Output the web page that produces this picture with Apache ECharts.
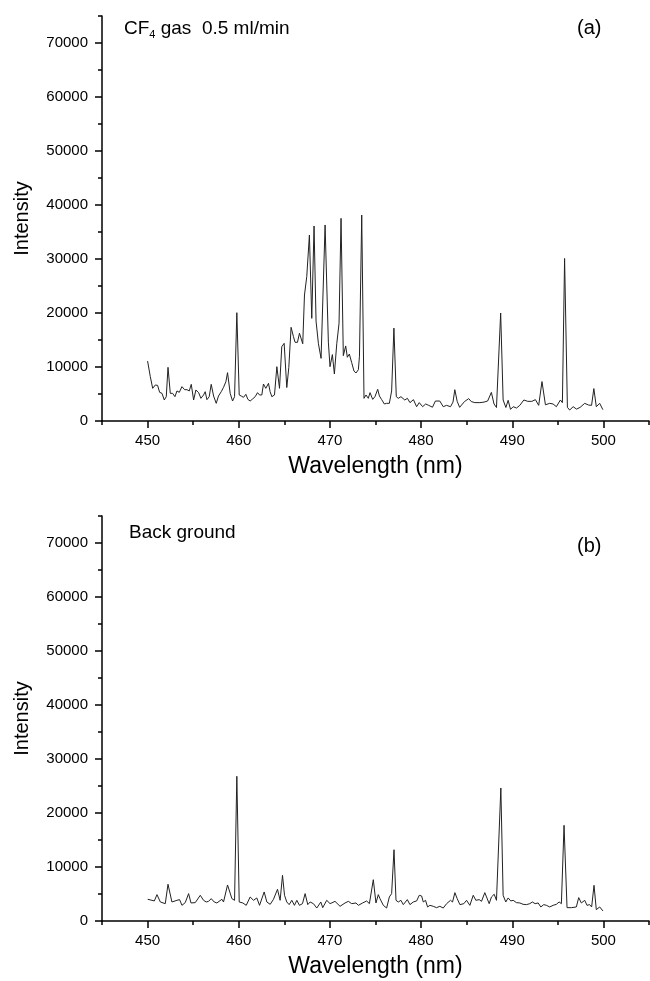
<!DOCTYPE html>
<html>
<head>
<meta charset="utf-8">
<script src="https://cdn.jsdelivr.net/npm/echarts@6/dist/echarts.min.js"></script>
<style>html,body{margin:0;padding:0;background:#fff;}#c{width:650px;height:981px;}</style>
</head>
<body>
<div id="c"></div>
<script>
// ---- data ----
const wavelengthA = [450.00,450.30,450.56,450.85,451.10,451.32,451.58,451.83,452.05,452.24,452.49,452.75,453.00,453.22,453.48,453.77,454.06,454.32,454.57,454.79,455.05,455.30,455.60,455.85,456.14,456.32,456.51,456.76,456.98,457.24,457.53,457.78,458.08,458.33,458.59,458.77,459.06,459.32,459.54,459.79,460.05,460.27,460.52,460.78,461.00,461.25,461.51,461.80,462.06,462.28,462.53,462.71,462.97,463.26,463.44,463.63,463.92,464.18,464.47,464.72,464.98,465.27,465.49,465.74,466.00,466.18,466.44,466.66,466.84,467.02,467.21,467.46,467.75,468.01,468.26,468.48,468.74,469.03,469.47,469.83,470.01,470.27,470.49,470.75,471.00,471.22,471.47,471.73,471.91,472.13,472.39,472.64,472.86,473.12,473.24,473.49,473.74,473.96,474.21,474.40,474.69,474.94,475.24,475.43,475.68,475.97,476.22,476.52,476.77,477.02,477.28,477.50,477.79,478.21,478.50,478.78,479.16,479.51,479.80,480.17,480.50,480.83,481.25,481.57,482.05,482.43,482.79,483.23,483.50,483.70,483.96,484.23,484.75,485.22,485.50,485.90,486.45,486.90,487.30,487.71,488.00,488.27,488.73,489.00,489.30,489.55,489.81,490.10,490.47,490.83,491.27,491.70,492.15,492.54,492.90,493.26,493.64,494.11,494.48,494.84,495.28,495.50,495.74,496.05,496.30,496.68,497.05,497.45,497.95,498.36,498.70,498.95,499.22,499.59,499.94];
const intensityA = [11100,8200,6050,6670,6600,5310,5120,3890,4500,9940,5120,5120,4500,5560,5310,6360,5800,5800,5560,6790,3890,5740,5250,4200,4820,5430,3950,4500,6790,4630,3270,4630,5430,6230,7280,8950,5120,3700,4500,20060,4820,4630,4380,4940,4010,3700,4070,4500,5250,4820,4820,6850,6050,6980,5430,4500,4820,10060,6050,13760,14380,6200,9900,17350,15620,14570,14570,16260,16500,14300,23330,26730,34440,19010,36110,18500,14300,11600,36300,14600,10060,12300,8700,14300,18100,37530,12100,13900,11800,12400,10800,9250,8890,9500,12000,38150,4200,4820,4200,5250,4010,4500,5870,4630,3950,3150,3270,3270,5560,17200,4500,4200,4500,3890,4200,3400,3950,2650,3400,2650,3150,2900,2550,3700,3700,2650,2900,2650,3500,5800,3640,2530,3580,4150,3600,3400,3400,3500,3700,5300,3150,2500,20000,3890,2500,3830,2150,2650,2400,2900,3890,3640,3640,3950,2900,7300,3000,3270,3150,2650,3890,3400,30100,2530,2030,2650,2200,2530,3270,2960,2900,6000,2650,3270,2100];

const wavelengthB = [450.01,450.48,450.74,451.03,451.40,451.94,452.24,452.67,453.22,453.51,453.77,454.13,454.50,454.76,455.23,455.78,456.14,456.43,456.69,456.98,457.31,457.60,458.15,458.33,458.77,459.25,459.54,459.79,460.05,460.45,460.82,461.25,461.62,461.98,462.28,462.79,463.08,463.45,463.81,464.25,464.54,464.80,465.02,465.27,465.53,465.82,466.11,466.37,466.66,466.99,467.28,467.57,467.83,468.19,468.56,469.00,469.21,469.65,470.02,470.56,471.11,471.66,472.02,472.39,472.86,473.12,473.59,474.03,474.33,474.76,475.05,475.31,475.49,475.86,476.22,476.52,476.77,477.03,477.25,477.50,477.79,478.05,478.49,478.78,479.14,479.51,479.80,480.06,480.24,480.49,480.71,480.97,481.33,481.70,482.06,482.43,482.80,483.23,483.45,483.71,483.96,484.26,484.69,484.99,485.35,485.72,486.01,486.37,486.63,486.99,487.18,487.47,487.72,488.02,488.27,488.75,489.00,489.29,489.55,489.84,490.10,490.46,490.83,491.19,491.56,491.92,492.21,492.51,492.84,493.13,493.46,493.75,494.11,494.48,494.84,495.14,495.39,495.68,496.01,496.49,497.03,497.29,497.58,497.95,498.20,498.49,498.71,498.97,499.22,499.59,499.95];
const intensityB = [4020,3830,3710,4880,3520,3210,6800,3520,3830,3960,2900,3400,5070,3340,3400,4760,3830,3520,3640,4140,3520,3340,4020,3520,6670,4140,3830,26800,3520,3340,2900,4450,3830,4270,2900,5380,3520,3090,4020,5870,3830,8460,4760,3520,3030,3830,2900,3830,2900,3210,5070,3030,3520,3210,2400,3520,2470,3830,3210,3640,2720,3340,3640,3210,3340,2900,3340,3710,3210,7650,3340,4880,4140,2900,2400,4450,5070,13200,3830,3520,3830,3030,3960,3030,3520,3710,4760,4630,3520,3830,2600,2900,2720,2470,2720,2400,3210,3830,3520,5250,4140,3030,3210,3830,2900,4760,3830,3960,3640,5250,4450,3210,4450,4950,3830,24630,4760,3520,4270,3710,3830,3400,3340,3090,3030,3210,3520,3210,3340,2600,3030,2900,2600,2900,3090,3520,3210,17720,2470,2470,2600,4330,3340,3830,2900,3030,2600,6610,2100,2600,1860];

const xTickLabels = [450, 460, 470, 480, 490, 500];
const xMinorTicks = [445, 455, 465, 475, 485, 495, 505];
const yTickLabels = [0, 10000, 20000, 30000, 40000, 50000, 60000, 70000];
const yMinorTicks = [5000, 15000, 25000, 35000, 45000, 55000, 65000, 75000];

const xMin = 445, xMax = 505, yMin = 0, yMax = 75000;

// ---- chart ----
const FONT = 'Liberation Sans, Arial, sans-serif';
const zip = (xs, ys) => xs.map((x, i) => [x, ys[i]]);
const plain = v => String(v);

function xAxes(gi) {
  return [
    {
      type: 'value', gridIndex: gi, position: 'bottom', min: xMin, max: xMax,
      name: 'Wavelength (nm)', nameLocation: 'middle', nameGap: 34,
      nameTextStyle: { fontFamily: FONT, fontSize: 23, color: '#000' },
      axisLine: { show: true, onZero: false, lineStyle: { color: '#000', width: 1.5 } },
      axisTick: { show: true, customValues: xTickLabels, length: 7, lineStyle: { color: '#000', width: 1.5 } },
      axisLabel: { customValues: xTickLabels, formatter: plain, margin: 12, fontFamily: FONT, fontSize: 15, color: '#000' },
      splitLine: { show: false }
    },
    {
      type: 'value', gridIndex: gi, position: 'bottom', min: xMin, max: xMax,
      axisLine: { show: false, onZero: false },
      axisTick: { show: true, customValues: xMinorTicks, length: 4, lineStyle: { color: '#000', width: 1.5 } },
      axisLabel: { show: false },
      splitLine: { show: false }
    }
  ];
}
function yAxes(gi) {
  return [
    {
      type: 'value', gridIndex: gi, position: 'left', min: yMin, max: yMax,
      name: 'Intensity', nameLocation: 'middle', nameGap: 70,
      nameTextStyle: { fontFamily: FONT, fontSize: 20, color: '#000' },
      axisLine: { show: true, lineStyle: { color: '#000', width: 1.5 } },
      axisTick: { show: true, customValues: yTickLabels, length: 7, lineStyle: { color: '#000', width: 1.5 } },
      axisLabel: { customValues: yTickLabels, formatter: plain, margin: 14, fontFamily: FONT, fontSize: 15, color: '#000' },
      splitLine: { show: false }
    },
    {
      type: 'value', gridIndex: gi, position: 'left', min: yMin, max: yMax,
      axisLine: { show: false },
      axisTick: { show: true, customValues: yMinorTicks, length: 4, lineStyle: { color: '#000', width: 1.5 } },
      axisLabel: { show: false },
      splitLine: { show: false }
    }
  ];
}

const chart = echarts.init(document.getElementById('c'), null, { renderer: 'canvas' });
chart.setOption({
  animation: false,
  backgroundColor: '#fff',
  title: [
    { left: 119, top: 13, text: '{a|CF}{s|4}{a| gas  0.5 ml/min}',
      textStyle: { rich: {
        a: { fontFamily: FONT, fontSize: 19, fontWeight: 'normal', color: '#000', lineHeight: 22 },
        s: { fontFamily: FONT, fontSize: 11, fontWeight: 'normal', color: '#000', lineHeight: 12, verticalAlign: 'bottom' }
      } } },
    { left: 572, top: 13, text: '(a)', textStyle: { fontFamily: FONT, fontSize: 20, fontWeight: 'normal', color: '#000' } },
    { left: 124, top: 518, text: 'Back ground', textStyle: { fontFamily: FONT, fontSize: 19, fontWeight: 'normal', color: '#000' } },
    { left: 572, top: 531, text: '(b)', textStyle: { fontFamily: FONT, fontSize: 20, fontWeight: 'normal', color: '#000' } }
  ],
  grid: [
    { left: 102, top: 16, width: 547, height: 405 },
    { left: 102, top: 516, width: 547, height: 405 }
  ],
  xAxis: [...xAxes(0), ...xAxes(1)],
  yAxis: [...yAxes(0), ...yAxes(1)],
  series: [
    { type: 'line', xAxisIndex: 0, yAxisIndex: 0, data: zip(wavelengthA, intensityA),
      showSymbol: false, lineStyle: { color: '#222', width: 1 }, silent: true },
    { type: 'line', xAxisIndex: 2, yAxisIndex: 2, data: zip(wavelengthB, intensityB),
      showSymbol: false, lineStyle: { color: '#222', width: 1 }, silent: true }
  ]
});
</script>
</body>
</html>
